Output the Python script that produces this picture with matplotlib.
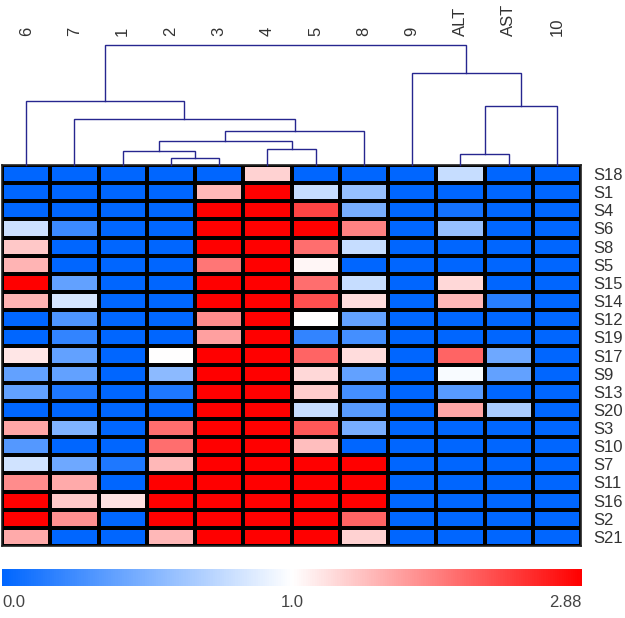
import numpy as np
import matplotlib
matplotlib.use("Agg")
import matplotlib.pyplot as plt
from matplotlib.colors import LinearSegmentedColormap, TwoSlopeNorm
from matplotlib.cm import ScalarMappable

plt.rcParams['font.family'] = ['Liberation Sans', 'DejaVu Sans']

# ---- data ----
col_labels = ["6", "7", "1", "2", "3", "4", "5", "8", "9", "ALT", "AST", "10"]
row_labels = ["S18", "S1", "S4", "S6", "S8", "S5", "S15", "S14", "S12", "S19", "S17",
              "S9", "S13", "S20", "S3", "S10", "S7", "S11", "S16", "S2", "S21"]

R = 2.88
values = np.array([
    # 6     7     1     2     3     4     5     8     9    ALT   AST   10
    [0.00, 0.00, 0.00, 0.00, 0.00, 1.33, 0.00, 0.00, 0.00, 0.78, 0.00, 0.00],  # S18
    [0.00, 0.00, 0.00, 0.00, 1.52, R,    0.78, 0.59, 0.00, 0.00, 0.00, 0.00],  # S1
    [0.00, 0.00, 0.00, 0.00, R,    R,    2.37, 0.47, 0.00, 0.08, 0.00, 0.00],  # S4
    [0.80, 0.24, 0.00, 0.00, R,    R,    R,    1.92, 0.00, 0.59, 0.00, 0.00],  # S6
    [1.41, 0.00, 0.00, 0.00, R,    R,    2.07, 0.78, 0.00, 0.00, 0.00, 0.00],  # S8
    [1.55, 0.00, 0.00, 0.00, 2.00, R,    1.07, 0.00, 0.00, 0.00, 0.00, 0.00],  # S5
    [R,    0.39, 0.00, 0.00, R,    R,    2.07, 0.78, 0.00, 1.29, 0.00, 0.00],  # S15
    [1.55, 0.84, 0.00, 0.00, R,    R,    2.29, 1.26, 0.00, 1.52, 0.16, 0.00],  # S14
    [0.00, 0.31, 0.00, 0.00, 1.85, R,    1.00, 0.39, 0.00, 0.00, 0.00, 0.00],  # S12
    [0.00, 0.20, 0.00, 0.00, 1.70, R,    0.20, 0.27, 0.00, 0.00, 0.00, 0.00],  # S19
    [1.18, 0.39, 0.00, 1.00, R,    R,    2.14, 1.26, 0.00, 2.14, 0.43, 0.00],  # S17
    [0.39, 0.39, 0.00, 0.55, R,    R,    1.29, 0.39, 0.00, 0.97, 0.39, 0.00],  # S9
    [0.39, 0.12, 0.00, 0.12, R,    R,    1.37, 0.27, 0.00, 0.35, 0.00, 0.00],  # S13
    [0.00, 0.00, 0.00, 0.00, R,    R,    0.78, 0.35, 0.00, 1.66, 0.67, 0.00],  # S20
    [1.66, 0.50, 0.00, 2.07, R,    R,    2.22, 0.47, 0.00, 0.00, 0.00, 0.00],  # S3
    [0.33, 0.00, 0.00, 2.07, R,    R,    1.48, 0.00, 0.00, 0.00, 0.00, 0.00],  # S10
    [0.82, 0.43, 0.12, 1.52, R,    R,    R,    R,    0.00, 0.00, 0.00, 0.00],  # S7
    [1.85, 1.63, 0.00, R,    R,    R,    R,    R,    0.00, 0.00, 0.00, 0.00],  # S11
    [R,    1.41, 1.22, R,    R,    R,    R,    R,    0.00, 0.00, 0.00, 0.00],  # S16
    [R,    1.81, 0.00, R,    R,    R,    R,    2.14, 0.00, 0.00, 0.00, 0.00],  # S2
    [1.63, 0.00, 0.00, 1.52, R,    R,    R,    1.33, 0.00, 0.00, 0.00, 0.00],  # S21
])

# dendrogram merges (scipy-like): child_a, child_b, height ; leaves are 0..11 in display order
merge_a = [3, 9, 2, 5, 14, 16, 1, 13, 0, 8, 20]
merge_b = [4, 10, 12, 6, 15, 7, 17, 11, 18, 19, 21]
merge_h = [7.3, 11.3, 14.0, 16.0, 24.3, 34.3, 46.0, 59.3, 64.3, 92.3, 120.0]

cbar_ticks = [0.0, 1.0, 2.88]
cbar_ticklabels = ["0.0", "1.0", "2.88"]

# ---- figure ----
W, H = 625, 618
fig = plt.figure(figsize=(W / 100, H / 100), dpi=100)

def px_axes(x0, y0, x1, y1):
    return fig.add_axes([x0 / W, 1 - y1 / H, (x1 - x0) / W, (y1 - y0) / H])

cmap = LinearSegmentedColormap.from_list("bwr2", ["#0066ff", "#ffffff", "#ff0000"])
norm = TwoSlopeNorm(vmin=0.0, vcenter=1.0, vmax=2.88)

hx0, hx1, hy0, hy1 = 2, 581, 165, 546
ax = px_axes(hx0, hy0, hx1, hy1)
nr, nc = values.shape
ax.pcolormesh(np.arange(nc + 1), np.arange(nr + 1), values, cmap=cmap, norm=norm,
              edgecolors="black", linewidth=1.6)
ax.set_xlim(0, nc)
ax.set_ylim(nr, 0)
ax.set_xticks([])
ax.yaxis.tick_right()
ax.set_yticks(np.arange(nr) + 0.5)
ax.set_yticklabels(row_labels, fontsize=12, color="#333333")
ax.tick_params(axis="y", length=0, pad=9)
for s in ax.spines.values():
    s.set_linewidth(1.2)
    s.set_color("#222222")

# dendrogram
dax = px_axes(hx0, 0, hx1, hy0)
dax.set_xlim(0, nc)
dax.set_ylim(0, hy0)
dax.axis("off")
pos = {i: (i + 0.5, 0.0) for i in range(nc)}
dcol = "#26268f"
for k, (a, b, h) in enumerate(zip(merge_a, merge_b, merge_h)):
    xa, ya = pos[a]
    xb, yb = pos[b]
    dax.plot([xa, xa, xb, xb], [ya, h, h, yb], color=dcol, lw=1.0,
             solid_joinstyle="miter", clip_on=False)
    pos[nc + k] = ((xa + xb) / 2, h)
for i, lab in enumerate(col_labels):
    dax.text(i + 0.5, 129, lab, rotation=90, ha="center", va="bottom",
             fontsize=12, color="#333333")

# colorbar
cax = px_axes(2, 569, 582, 586)
sm = ScalarMappable(norm=norm, cmap=cmap)
cb = fig.colorbar(sm, cax=cax, orientation="horizontal")
cb.outline.set_visible(False)
cb.set_ticks([])
has = ["left", "center", "right"]
for t, lab, ha in zip(cbar_ticks, cbar_ticklabels, has):
    cax.text(t, -0.55, lab, ha=ha, va="top", fontsize=12, color="#444444",
             transform=cax.get_xaxis_transform())

fig.savefig("out.png", dpi=100)
